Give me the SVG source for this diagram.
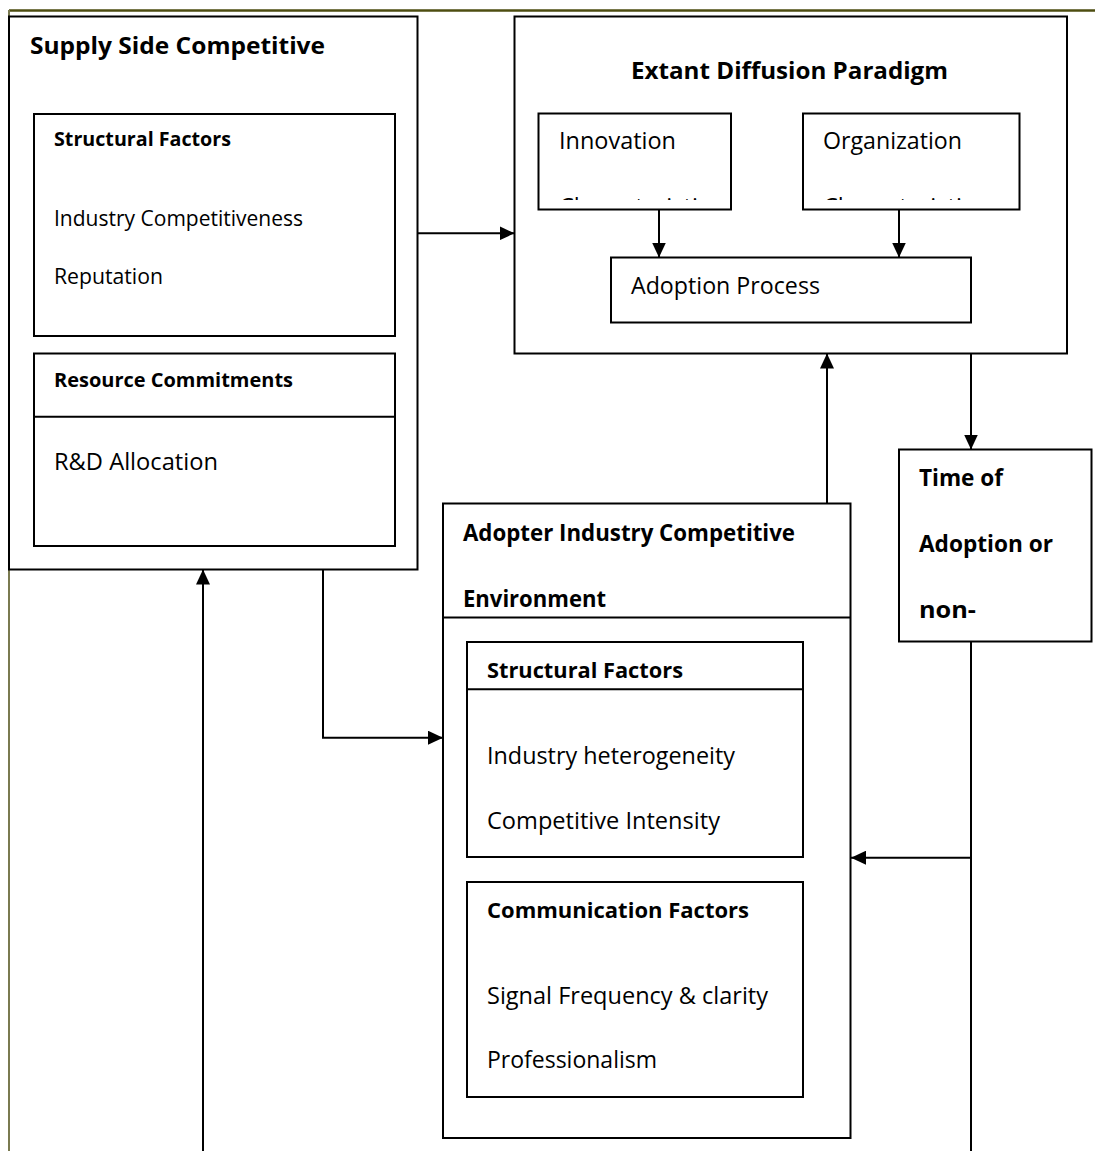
<svg xmlns="http://www.w3.org/2000/svg" width="1095" height="1151" viewBox="0 0 1095 1151">
<style>
.box{fill:#fff;stroke:#000;stroke-width:2}
.div{stroke:#000;stroke-width:2}
.con{fill:none;stroke:#000;stroke-width:2}
text{font-family:"Open Sans","Noto Sans","Liberation Sans",sans-serif;fill:#000}
.t{font-size:24px;font-weight:bold}
.h{font-size:21.5px;font-weight:bold}
.hs{font-size:19.5px;font-weight:bold}
.b{font-size:23.5px}
.bs{font-size:21.5px}
</style>
<defs>
<marker id="ah" markerUnits="userSpaceOnUse" markerWidth="16" markerHeight="14" refX="15" refY="7" orient="auto">
<path d="M0,0 L15,7 L0,14 Z" fill="#000"/>
</marker>
<clipPath id="clipInn"><rect x="539" y="113" width="192" height="87"/></clipPath>
<clipPath id="clipOrg"><rect x="803" y="113" width="216" height="87"/></clipPath>
</defs>
<rect width="1095" height="1151" fill="#fff"/>
<g id="page-border">
<line x1="9" y1="10.5" x2="1095" y2="10.5" stroke="#4d4d10" stroke-width="2.5"/>
<line x1="9" y1="10" x2="9" y2="1151" stroke="#7a7a50" stroke-width="2"/>
</g>
<g id="supply-side">
<rect class="box" x="9" y="16.5" width="408.5" height="553"/>
<text class="t" x="30" y="54" textLength="295" lengthAdjust="spacingAndGlyphs">Supply Side Competitive</text>
</g>
<g id="supply-structural">
<rect class="box" x="34" y="114" width="361" height="222"/>
<text class="hs" x="54" y="146" textLength="177" lengthAdjust="spacingAndGlyphs">Structural Factors</text>
<text class="bs" x="54" y="226" textLength="249" lengthAdjust="spacingAndGlyphs">Industry Competitiveness</text>
<text class="bs" x="54" y="284" textLength="109" lengthAdjust="spacingAndGlyphs">Reputation</text>
</g>
<g id="supply-resource">
<rect class="box" x="34" y="353.5" width="361" height="192.5"/>
<line class="div" x1="34" y1="416.7" x2="395" y2="416.7"/>
<text class="hs" x="54" y="387" textLength="239" lengthAdjust="spacingAndGlyphs">Resource Commitments</text>
<text class="b" x="54" y="470" textLength="164" lengthAdjust="spacingAndGlyphs">R&amp;D Allocation</text>
</g>
<g id="extant">
<rect class="box" x="514.5" y="16.5" width="552.5" height="337"/>
<text class="t" x="631" y="79" textLength="317" lengthAdjust="spacingAndGlyphs">Extant Diffusion Paradigm</text>
</g>
<g id="innovation">
<rect class="box" x="538.5" y="113.5" width="192.5" height="96"/>
<text class="b" x="559" y="149" textLength="117" lengthAdjust="spacingAndGlyphs">Innovation</text>
<text class="b" x="559" y="215" clip-path="url(#clipInn)">Characteristics</text>
</g>
<g id="organization">
<rect class="box" x="803" y="113.5" width="216.5" height="96"/>
<text class="b" x="823" y="149" textLength="139" lengthAdjust="spacingAndGlyphs">Organization</text>
<text class="b" x="823" y="215" clip-path="url(#clipOrg)">Characteristics</text>
</g>
<g id="adoption-process">
<rect class="box" x="611" y="257.5" width="360" height="65"/>
<text class="b" x="631" y="294" textLength="189" lengthAdjust="spacingAndGlyphs">Adoption Process</text>
</g>
<g id="time-of-adoption">
<rect class="box" x="899" y="449.5" width="192.5" height="192"/>
<text class="t" x="919" y="486" textLength="84" lengthAdjust="spacingAndGlyphs">Time of</text>
<text class="t" x="919" y="552" textLength="134" lengthAdjust="spacingAndGlyphs">Adoption or</text>
<text class="t" x="919" y="618" textLength="57" lengthAdjust="spacingAndGlyphs">non-</text>
</g>
<g id="adopter">
<rect class="box" x="443" y="503.5" width="407.5" height="634.5"/>
<line class="div" x1="443" y1="617.5" x2="850.5" y2="617.5"/>
<text class="t" x="463" y="541" textLength="332" lengthAdjust="spacingAndGlyphs">Adopter Industry Competitive</text>
<text class="t" x="463" y="607" textLength="143" lengthAdjust="spacingAndGlyphs">Environment</text>
</g>
<g id="adopter-structural">
<rect class="box" x="467" y="642" width="336" height="215"/>
<line class="div" x1="467" y1="689.3" x2="803" y2="689.3"/>
<text class="h" x="487" y="678" textLength="196" lengthAdjust="spacingAndGlyphs">Structural Factors</text>
<text class="b" x="487" y="764" textLength="248" lengthAdjust="spacingAndGlyphs">Industry heterogeneity</text>
<text class="b" x="487" y="829" textLength="233" lengthAdjust="spacingAndGlyphs">Competitive Intensity</text>
</g>
<g id="adopter-communication">
<rect class="box" x="467" y="882" width="336" height="215"/>
<text class="h" x="487" y="918" textLength="262" lengthAdjust="spacingAndGlyphs">Communication Factors</text>
<text class="b" x="487" y="1004" textLength="281" lengthAdjust="spacingAndGlyphs">Signal Frequency &amp; clarity</text>
<text class="b" x="487" y="1068" textLength="170" lengthAdjust="spacingAndGlyphs">Professionalism</text>
</g>
<g id="connectors">
<path class="con" d="M417.5,233.3 H514.5" marker-end="url(#ah)"/>
<path class="con" d="M659,209.5 V257.5" marker-end="url(#ah)"/>
<path class="con" d="M899,209.5 V257.5" marker-end="url(#ah)"/>
<path class="con" d="M827,503.5 V353.5" marker-end="url(#ah)"/>
<path class="con" d="M971,353.5 V449.5" marker-end="url(#ah)"/>
<path class="con" d="M971,641.5 V1151"/>
<path class="con" d="M971,857.7 H851" marker-end="url(#ah)"/>
<path class="con" d="M323,569.5 V737.7 H443" marker-end="url(#ah)"/>
<path class="con" d="M203,1151 V569.5" marker-end="url(#ah)"/>
</g>
</svg>
